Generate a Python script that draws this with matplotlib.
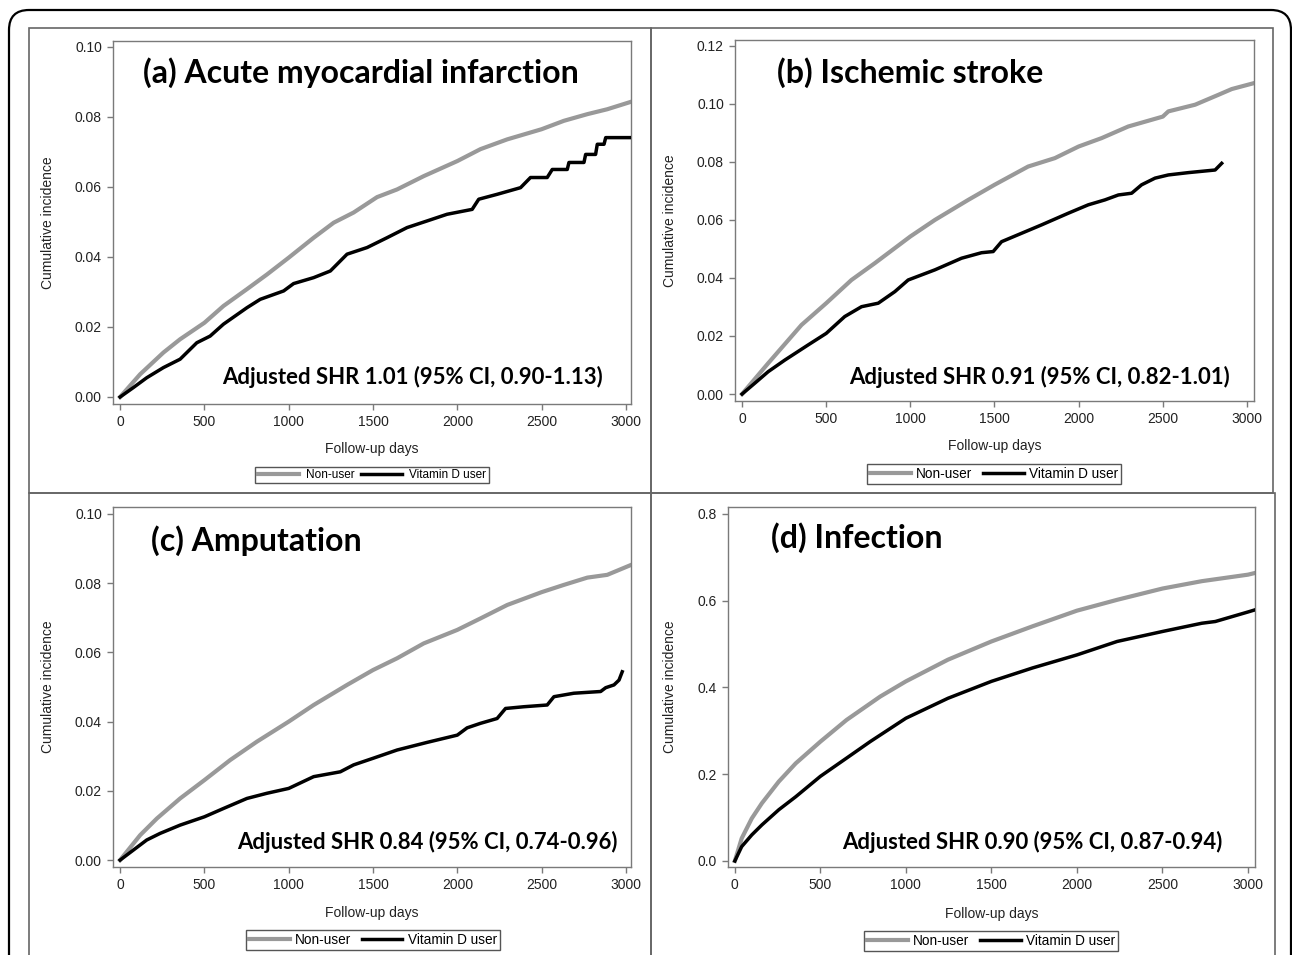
import matplotlib

matplotlib.use("Agg")
import matplotlib.pyplot as plt
from matplotlib.lines import Line2D
from matplotlib.patches import FancyBboxPatch, Rectangle

W, H = 1292, 955

# ---- data (days, cumulative incidence) ----
days_a_nonuser = [0, 119, 257, 356, 500, 613, 752, 871, 1000, 1148, 1267, 1385, 1524, 1643, 1801, 2000,
                  2137, 2296, 2500, 2632, 2771, 2889, 3028]
inc_a_nonuser = [0.0, 0.0065, 0.0127, 0.0165, 0.0212, 0.026, 0.0308, 0.035, 0.0398, 0.0455, 0.0498, 0.0527,
                 0.0571, 0.0593, 0.0631, 0.0674, 0.0708, 0.0736, 0.0765, 0.0789, 0.0808, 0.0822, 0.0843]
days_a_user = [0, 79, 158, 257, 356, 455, 534, 613, 752, 831, 970, 1029, 1148, 1247, 1346, 1465, 1583, 1702,
               1821, 1939, 2088, 2127, 2236, 2375, 2434, 2533, 2563, 2652, 2662, 2751, 2761, 2820, 2830, 2870,
               2880, 3038]
inc_a_user = [0.0, 0.0027, 0.0055, 0.0084, 0.0108, 0.0155, 0.0174, 0.0208, 0.0255, 0.0279, 0.0303, 0.0324,
              0.0341, 0.036, 0.0408, 0.0427, 0.0455, 0.0484, 0.0503, 0.0522, 0.0536, 0.0565, 0.0579, 0.0598,
              0.0627, 0.0627, 0.065, 0.065, 0.067, 0.067, 0.0693, 0.0693, 0.0722, 0.0722, 0.0741, 0.0741]

days_b_nonuser = [0, 155, 353, 500, 650, 789, 1000, 1146, 1344, 1500, 1700, 1859, 2000, 2137, 2295, 2500,
                  2533, 2692, 2830, 2910, 3039]
inc_b_nonuser = [0.0, 0.0106, 0.0238, 0.0313, 0.0393, 0.0451, 0.0543, 0.060, 0.0669, 0.0721, 0.0784, 0.0813,
                 0.0853, 0.0882, 0.0922, 0.0956, 0.0974, 0.0997, 0.1031, 0.1051, 0.1071]
days_b_user = [0, 75, 155, 254, 392, 500, 610, 710, 809, 908, 987, 1146, 1304, 1423, 1492, 1542, 1661, 1780,
               1938, 2057, 2156, 2236, 2315, 2374, 2454, 2533, 2652, 2811, 2850]
inc_b_user = [0.0, 0.0037, 0.0077, 0.0117, 0.0169, 0.0209, 0.0267, 0.0301, 0.0313, 0.0353, 0.0393, 0.0428,
              0.0468, 0.0487, 0.0491, 0.0525, 0.0554, 0.0583, 0.0623, 0.0652, 0.0669, 0.0686, 0.0692, 0.0721,
              0.0744, 0.0755, 0.0763, 0.0772, 0.0795]

days_c_nonuser = [0, 119, 218, 356, 500, 653, 811, 1000, 1148, 1346, 1500, 1643, 1801, 2000, 2137, 2296, 2500,
                  2632, 2771, 2889, 3032]
inc_c_nonuser = [0.0, 0.0072, 0.012, 0.0178, 0.0231, 0.0289, 0.0342, 0.040, 0.0448, 0.0506, 0.0549, 0.0583,
                 0.0626, 0.0665, 0.0698, 0.0737, 0.0774, 0.0795, 0.0816, 0.0824, 0.0853]
days_c_user = [0, 79, 158, 237, 356, 500, 613, 752, 871, 1000, 1148, 1306, 1385, 1500, 1643, 1821, 2000, 2058,
               2137, 2236, 2286, 2395, 2533, 2573, 2691, 2850, 2880, 2929, 2959, 2978]
inc_c_user = [0.0, 0.0029, 0.0058, 0.0077, 0.0101, 0.0125, 0.0149, 0.0178, 0.0193, 0.0207, 0.0241, 0.0255,
              0.0275, 0.0294, 0.0318, 0.034, 0.0361, 0.0382, 0.0395, 0.0409, 0.0438, 0.0443, 0.0448, 0.0472,
              0.0482, 0.0487, 0.0498, 0.0506, 0.052, 0.0544]

days_d_nonuser = [0, 40, 99, 158, 257, 356, 500, 653, 850, 1000, 1246, 1500, 1741, 2000, 2235, 2500, 2730,
                  3000, 3042]
inc_d_nonuser = [0.0, 0.052, 0.098, 0.133, 0.183, 0.225, 0.275, 0.325, 0.379, 0.414, 0.464, 0.506, 0.541,
                 0.577, 0.602, 0.628, 0.645, 0.660, 0.664]
days_d_user = [0, 40, 99, 158, 257, 356, 500, 653, 791, 1000, 1246, 1500, 1741, 2000, 2235, 2500, 2730, 2809,
               3000, 3042]
inc_d_user = [0.0, 0.033, 0.06, 0.083, 0.118, 0.148, 0.195, 0.237, 0.275, 0.329, 0.375, 0.414, 0.445, 0.475,
              0.506, 0.529, 0.548, 0.552, 0.574, 0.579]

titles = ["(a) Acute myocardial infarction", "(b) Ischemic stroke", "(c) Amputation", "(d) Infection"]
shr_texts = [
    "Adjusted SHR 1.01 (95% CI, 0.90-1.13)",
    "Adjusted SHR 0.91 (95% CI, 0.82-1.01)",
    "Adjusted SHR 0.84 (95% CI, 0.74-0.96)",
    "Adjusted SHR 0.90 (95% CI, 0.87-0.94)",
]
x_ticks = [0, 500, 1000, 1500, 2000, 2500, 3000]
y_ticks_a = [0.00, 0.02, 0.04, 0.06, 0.08, 0.10]
y_ticks_b = [0.00, 0.02, 0.04, 0.06, 0.08, 0.10, 0.12]
y_ticks_d = [0.0, 0.2, 0.4, 0.6, 0.8]

GRAY = "#999999"
AXIS_GRAY = "#7a7a7a"
SANS = ["Liberation Sans", "DejaVu Sans"]
TITLE_FONT = ["Lato", "DejaVu Sans"]

PANELS = [
    # axes box in px (left, top, right, bottom); text positions in axes fraction; legend centre in px
    dict(nu=(days_a_nonuser, inc_a_nonuser), vd=(days_a_user, inc_a_user), box=(113, 41, 631, 404),
         xlim=(-42, 3030), ylim=(-0.002, 0.1017), yticks=y_ticks_a, fmt="{:.2f}",
         title_xy=(0.058, 0.912), shr_xy=(0.946, 0.074), leg=(372, 475), leg_fs=8.5,
         leg_kw=dict(handlelength=3.5, handletextpad=0.6, columnspacing=0.5), ylab_x=48, xlab_y=449),
    dict(nu=(days_b_nonuser, inc_b_nonuser), vd=(days_b_user, inc_b_user), box=(735, 40, 1254, 401),
         xlim=(-42, 3042), ylim=(-0.0024, 0.122), yticks=y_ticks_b, fmt="{:.2f}",
         title_xy=(0.081, 0.909), shr_xy=(0.954, 0.066), leg=(994, 474), leg_fs=9.8,
         leg_kw=dict(handlelength=3.0, handletextpad=0.4, columnspacing=0.75), ylab_x=670, xlab_y=446),
    dict(nu=(days_c_nonuser, inc_c_nonuser), vd=(days_c_user, inc_c_user), box=(113, 507, 631, 867),
         xlim=(-42, 3030), ylim=(-0.002, 0.102), yticks=y_ticks_a, fmt="{:.2f}",
         title_xy=(0.073, 0.908), shr_xy=(0.975, 0.069), leg=(373, 940), leg_fs=9.8,
         leg_kw=dict(handlelength=3.0, handletextpad=0.4, columnspacing=0.75), ylab_x=48, xlab_y=913),
    dict(nu=(days_d_nonuser, inc_d_nonuser), vd=(days_d_user, inc_d_user), box=(728, 507, 1255, 867),
         xlim=(-40, 3041), ylim=(-0.014, 0.816), yticks=y_ticks_d, fmt="{:.1f}",
         title_xy=(0.082, 0.914), shr_xy=(0.939, 0.069), leg=(991, 941), leg_fs=9.8,
         leg_kw=dict(handlelength=3.0, handletextpad=0.4, columnspacing=0.75), ylab_x=670, xlab_y=914),
]


def px_rect(left, top, right, bottom):
    return [left / W, 1 - bottom / H, (right - left) / W, (bottom - top) / H]


def draw_frames(fig):
    inch = fig.dpi_scale_trans
    outer = FancyBboxPatch((9 / 100, -0.5), (1291 - 9) / 100, (H - 10) / 100 + 0.5,
                           boxstyle="round,pad=0,rounding_size=0.2", transform=inch,
                           fill=False, edgecolor="black", linewidth=1.6)
    fig.add_artist(outer)
    for (l, t, r, b) in [(29, 28, 651, 493), (651, 28, 1273, 493), (29, 493, 651, 960), (651, 493, 1275, 960)]:
        rect = Rectangle((l / W, 1 - b / H), (r - l) / W, (b - t) / H, transform=fig.transFigure,
                         fill=False, edgecolor="#666666", linewidth=1.2)
        fig.add_artist(rect)


def draw_panel(fig, spec, title, shr):
    ax = fig.add_axes(px_rect(*spec["box"]))
    ax.plot(*spec["nu"], color=GRAY, linewidth=3.0, zorder=2)
    ax.plot(*spec["vd"], color="black", linewidth=2.5, zorder=3)
    ax.set_xlim(*spec["xlim"])
    ax.set_ylim(*spec["ylim"])
    ax.set_xticks(x_ticks)
    ax.set_xticklabels([str(t) for t in x_ticks], fontfamily=SANS, fontsize=10)
    ax.set_yticks(spec["yticks"])
    ax.set_yticklabels([spec["fmt"].format(t) for t in spec["yticks"]], fontfamily=SANS, fontsize=10)
    ax.tick_params(direction="out", length=4, width=1, color=AXIS_GRAY, labelcolor="#222222", pad=4)
    for sp in ax.spines.values():
        sp.set_color(AXIS_GRAY)
        sp.set_linewidth(1.0)

    ax.text(*spec["title_xy"], title, transform=ax.transAxes, ha="left", va="center",
            fontfamily=TITLE_FONT, fontweight="bold", fontsize=23)
    ax.text(*spec["shr_xy"], shr, transform=ax.transAxes, ha="right", va="center",
            fontfamily=TITLE_FONT, fontweight="bold", fontsize=15.9)

    left, top, right, bottom = spec["box"]
    fig.text(spec["ylab_x"] / W, 1 - (top + bottom) / 2 / H, "Cumulative incidence", rotation=90,
             ha="center", va="center", fontfamily=SANS, fontsize=10, color="#222222")
    fig.text((left + right) / 2 / W, 1 - spec["xlab_y"] / H, "Follow-up days",
             ha="center", va="center", fontfamily=SANS, fontsize=10, color="#222222")

    handles = [Line2D([], [], color=GRAY, linewidth=3.0), Line2D([], [], color="black", linewidth=2.5)]
    leg = ax.legend(handles, ["Non-user", "Vitamin D user"], loc="center",
                    bbox_to_anchor=(spec["leg"][0] / W, 1 - spec["leg"][1] / H), bbox_transform=fig.transFigure,
                    ncol=2, frameon=True, fancybox=False, framealpha=1, edgecolor="#555555",
                    prop={"family": SANS, "size": spec["leg_fs"]}, borderpad=0.2, borderaxespad=0,
                    **spec["leg_kw"])
    leg.get_frame().set_linewidth(1.0)


def main():
    fig = plt.figure(figsize=(W / 100, H / 100), dpi=100)
    draw_frames(fig)
    for spec, title, shr in zip(PANELS, titles, shr_texts):
        draw_panel(fig, spec, title, shr)
    fig.savefig("out.png", dpi=100, facecolor="white")
    plt.close(fig)


if __name__ == "__main__":
    main()
